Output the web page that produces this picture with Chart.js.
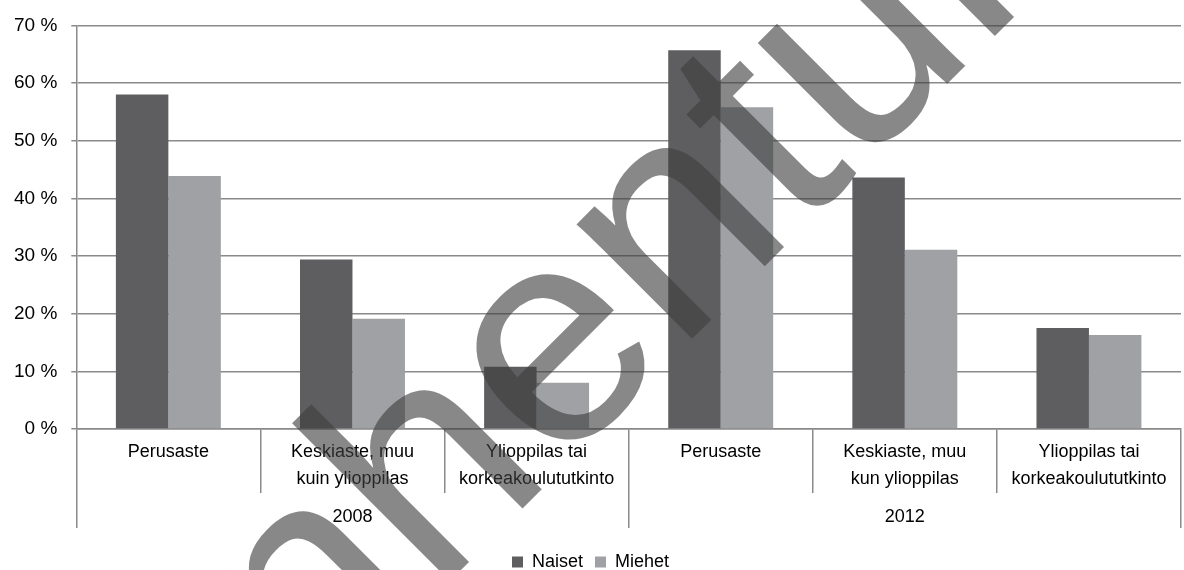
<!DOCTYPE html>
<html>
<head>
<meta charset="utf-8">
<script src="https://cdn.jsdelivr.net/npm/chart.js@4.4.1/dist/chart.umd.min.js"></script>
<style>
  html, body { margin: 0; padding: 0; background: #fff; overflow: hidden; }
  #wrap { width: 1184px; height: 570px; }
</style>
</head>
<body>
<div id="wrap"><canvas id="eduChart" width="1184" height="570"></canvas></div>
<script>
let categories = [
	['Perusaste'],
	['Keskiaste, muu', 'kuin ylioppilas'],
	['Ylioppilas tai', 'korkeakoulututkinto'],
	['Perusaste'],
	['Keskiaste, muu', 'kun ylioppilas'],
	['Ylioppilas tai', 'korkeakoulututkinto']
];
let years = ['2008', '2012'];
let naiset = [58.0, 29.4, 10.8, 65.7, 43.6, 17.5];
let miehet = [43.9, 19.1, 8.0, 55.8, 31.1, 16.3];
let y_ticks = [0, 10, 20, 30, 40, 50, 60, 70];

Chart.defaults.font.family = "'Liberation Sans', Arial, sans-serif";
Chart.defaults.color = '#000';

// pad the labels with blank lines so the axis box is tall enough for them
function padLines(lbl, n) {
	let out = lbl.slice();
	while (out.length < n) out.push('');
	return out;
}
let cat_labels = categories.map(c => padLines(c, 4));
let year_labels = years.map(y => padLines([y], 2));

// big diagonal stamp over the chart
let stamp = {
	id: 'stamp',
	afterDraw(chart) {
		let ctx = chart.ctx;
		ctx.save();
		ctx.translate(673, 358);
		ctx.rotate(-Math.PI / 4);
		ctx.font = "308px 'Liberation Sans', Arial, sans-serif";
		ctx.textAlign = 'center';
		ctx.textBaseline = 'alphabetic';
		ctx.fillStyle = 'rgba(61, 61, 61, 0.615)';
		ctx.fillText('Vanhentunut', 0, 0);
		ctx.restore();
	}
};

let edu_data = {
	labels: cat_labels,
	datasets: [{
		label: 'Naiset',
		backgroundColor: '#5e5e60',
		borderWidth: 0,
		data: naiset
	}, {
		label: 'Miehet',
		backgroundColor: '#a0a1a4',
		borderWidth: 0,
		data: miehet
	}]
};

let edu_options = {
	responsive: false,
	animation: false,
	layout: {
		padding: { top: 12, left: 0, right: 3, bottom: 0 }
	},
	datasets: {
		bar: { barPercentage: 1, categoryPercentage: 0.57 }
	},
	scales: {
		x: {
			grid: {
				offset: true,
				drawOnChartArea: false,
				color: '#8a8a8a',
				lineWidth: 1.5,
				tickLength: 64
			},
			border: { color: '#8a8a8a', width: 1.5 },
			ticks: {
				padding: -54,
				maxRotation: 0,
				autoSkip: false,
				font: { size: 18, lineHeight: 1.5 }
			}
		},
		x2: {
			type: 'category',
			position: 'bottom',
			labels: year_labels,
			grid: {
				offset: true,
				drawOnChartArea: false,
				color: '#8a8a8a',
				lineWidth: 1.5,
				tickLength: 35
			},
			border: { display: false },
			ticks: {
				padding: -28.5,
				maxRotation: 0,
				autoSkip: false,
				font: { size: 18, lineHeight: 35 / 18 }
			}
		},
		y: {
			min: y_ticks[0],
			max: y_ticks[y_ticks.length - 1],
			grid: {
				color: '#8a8a8a',
				lineWidth: 1.5,
				tickLength: 5
			},
			border: { color: '#8a8a8a', width: 1.5 },
			ticks: {
				stepSize: 10,
				padding: 14,
				font: { size: 19 },
				callback: v => v + ' %'
			}
		}
	},
	plugins: {
		legend: {
			position: 'bottom',
			maxHeight: 29,
			labels: {
				boxWidth: 11,
				boxHeight: 11,
				padding: 12,
				font: { size: 18 }
			}
		},
		tooltip: { enabled: false }
	}
};

let eduChart = new Chart('eduChart', {
	type: 'bar',
	data: edu_data,
	options: edu_options,
	plugins: [stamp]
});
</script>
</body>
</html>
